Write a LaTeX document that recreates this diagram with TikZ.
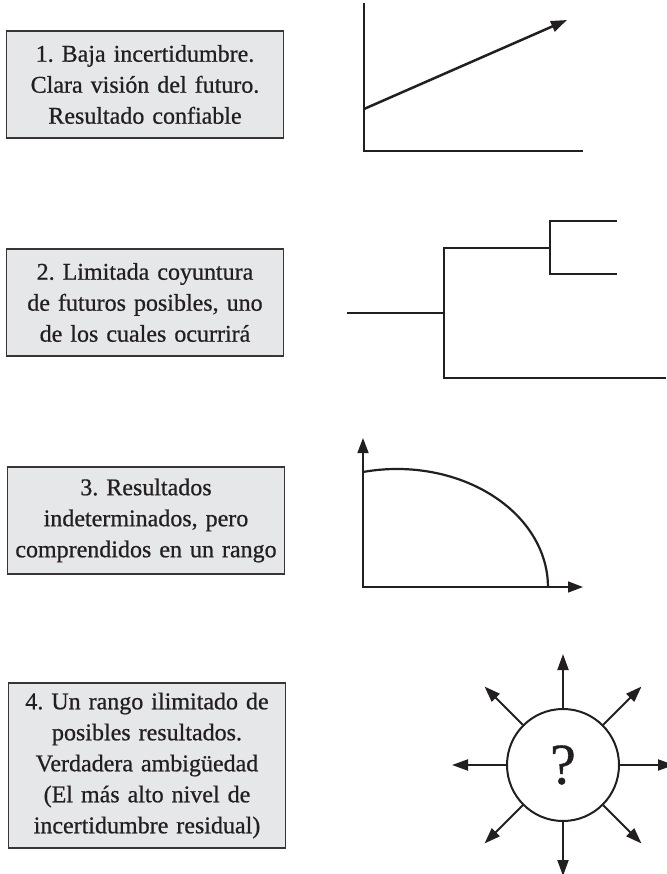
\documentclass[tikz,border=0pt]{standalone}
\usepackage{fontspec}
\setmainfont{Liberation Serif}
\newfontfamily\casefont{Liberation Serif}[FakeBold=0.7]
\usetikzlibrary{arrows.meta}

\definecolor{inkgray}{HTML}{231F20}
\definecolor{boxgray}{HTML}{E6E7E8}

\tikzset{
    casebox/.style={draw=inkgray!90, fill=boxgray, line width=1.3pt, minimum width=277pt,
        text width=270pt, align=center, inner sep=0pt, text=inkgray,
        font=\casefont\frenchspacing\fontsize{24}{31}\selectfont},
    headarrow/.style={-{Triangle[length=16pt,width=11pt]}},
    axisline/.style={draw=inkgray, line width=1.5pt},
    thickline/.style={draw=inkgray, line width=2.5pt}
}

\begin{document}
\begin{tikzpicture}[x=1pt, y=-1pt]
    \useasboundingbox (0,0) rectangle (666,874);

    % the four cases on the left
    \node[casebox, minimum height=107pt] (case1) at (145,84.5)
        {1. Baja incertidumbre.\\ Clara visión del futuro.\\ Resultado confiable};
    \node[casebox, minimum height=107pt] (case2) at (145,302.5)
        {2. Limitada coyuntura\\ de futuros posibles, uno\\ de los cuales ocurrirá};
    \node[casebox, minimum height=107pt] (case3) at (146,520.5)
        {3. Resultados\\ indeterminados, pero\\ comprendidos en un rango};
    \node[casebox, minimum height=165pt] (case4) at (147,765.5)
        {4. Un rango ilimitado de\\ posibles resultados.\\ Verdadera ambigüedad\\ (El más alto nivel de\\ incertidumbre residual)};

    % 1: one clear trend
    \draw[axisline] (364,3) -- (364,151) -- (583,151);
    \draw[thickline, headarrow] (364,109) -- (567,20);

    % 2: branching futures
    \draw[thickline] (347,313) -- (444,313);
    \draw[thickline] (666,378) -| (444,248) -- (550,248);
    \draw[thickline] (617,221) -| (550,274) -- (617,274);

    % 3: a range of outcomes
    \draw[axisline, {Triangle[length=15pt,width=11pt]}-{Triangle[length=15pt,width=11pt]}]
        (363,438) -- (363,587) -- (583,587);
    \draw[thickline, line width=2.2pt] (363,472) arc[start angle=-103, end angle=0, x radius=151, y radius=118];

    % 4: no limit at all
    \node[circle, draw=inkgray, line width=2pt, minimum size=112pt, inner sep=0pt,
        text=inkgray, font=\casefont\fontsize{58}{58}\selectfont] (q) at (563,765) {?};
    \foreach \ang in {0,45,...,315}
        \draw[thickline, line width=2pt, headarrow] (q.\ang) -- ++(\ang:54pt);
\end{tikzpicture}
\end{document}
